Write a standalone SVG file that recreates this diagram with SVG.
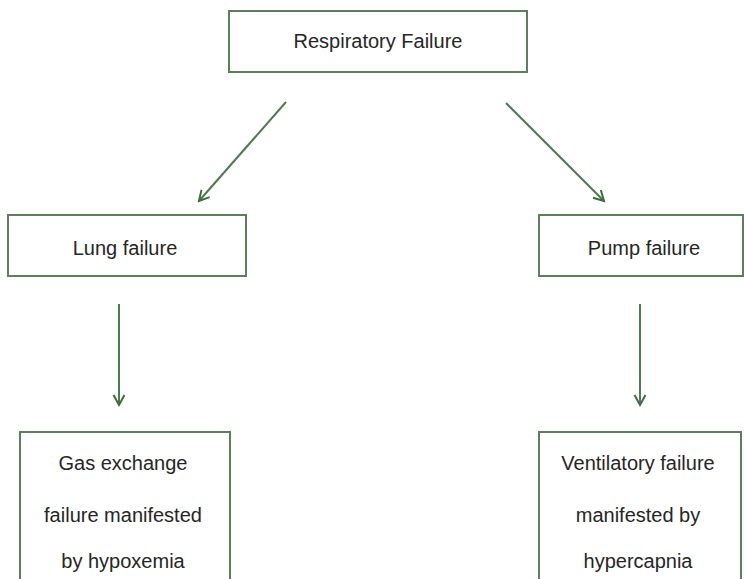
<svg xmlns="http://www.w3.org/2000/svg" width="744" height="579" viewBox="0 0 744 579">
<style>
.box{fill:#ffffff;stroke:#5b7f5b;stroke-width:2}
.lbl{font-family:"Liberation Sans",Arial,sans-serif;font-size:20px;fill:#262626;text-anchor:middle}
.conn{stroke:#4f7a4f;stroke-width:2;fill:none}
</style>
<defs>
<marker id="arr" markerWidth="14" markerHeight="14" refX="11" refY="6" orient="auto" markerUnits="userSpaceOnUse">
<path d="M1,0.5 L11,6 L1,11.5" fill="none" stroke="#3f6b3f" stroke-width="2"/>
</marker>
</defs>
<rect width="744" height="579" fill="#ffffff"/>
<g id="respiratory-failure">
<rect class="box" x="229" y="11" width="298" height="61"/>
<text class="lbl" x="378" y="48">Respiratory Failure</text>
</g>
<g id="lung-failure">
<rect class="box" x="8" y="215" width="238" height="61"/>
<text class="lbl" x="125" y="255">Lung failure</text>
</g>
<g id="pump-failure">
<rect class="box" x="539" y="215" width="204" height="61"/>
<text class="lbl" x="644" y="255">Pump failure</text>
</g>
<g id="gas-exchange">
<rect class="box" x="20" y="432" width="210" height="160"/>
<text class="lbl" x="123" y="470">Gas exchange</text>
<text class="lbl" x="123" y="522">failure manifested</text>
<text class="lbl" x="123" y="568">by hypoxemia</text>
</g>
<g id="ventilatory">
<rect class="box" x="539" y="432" width="202" height="160"/>
<text class="lbl" x="638" y="470">Ventilatory failure</text>
<text class="lbl" x="638" y="522">manifested by</text>
<text class="lbl" x="638" y="568">hypercapnia</text>
</g>
<g id="connectors">
<line class="conn" x1="286" y1="102" x2="199" y2="201" marker-end="url(#arr)"/>
<line class="conn" x1="506" y1="103" x2="604" y2="201" marker-end="url(#arr)"/>
<line class="conn" x1="119" y1="304" x2="119" y2="405" marker-end="url(#arr)"/>
<line class="conn" x1="640" y1="304" x2="640" y2="405" marker-end="url(#arr)"/>
</g>
</svg>
